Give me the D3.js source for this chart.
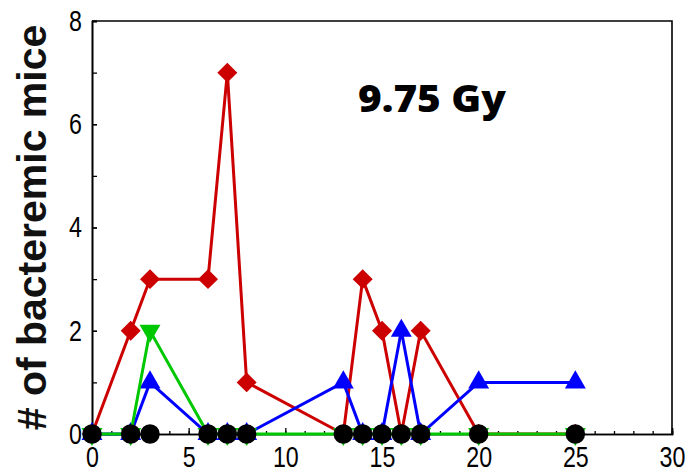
<!DOCTYPE html>
<html>
<head>
<meta charset="utf-8">
<script src="https://cdn.jsdelivr.net/npm/d3@7/dist/d3.min.js"></script>
<style>
  html, body { margin: 0; padding: 0; background: #fff; }
  svg { display: block; }
</style>
</head>
<body>
<script>
// Days after irradiation at which mice were sampled
const days = [0, 2, 3, 6, 7, 8, 13, 14, 15, 16, 17, 20, 25];

// Number of bacteremic mice per group on each day
const seriesRed   = [0, 2, 3, 3, 7, 1, 0, 3, 2, 0, 2, 0, 0];
const seriesBlue  = [0, 0, 1, 0, 0, 0, 1, 0, 0, 2, 0, 1, 1];
const seriesGreen = [0, 0, 2, 0, 0, 0, 0, 0, 0, 0, 0, 0, 0];
const seriesBlack = [0, 0, 0, 0, 0, 0, 0, 0, 0, 0, 0, 0, 0];

const xTicks = [0, 5, 10, 15, 20, 25, 30];
const yTicks = [0, 2, 4, 6, 8];

const titleText = "9.75 Gy";
const yLabel = "# of bacteremic mice";

const W = 689, H = 472;
const margin = { left: 92, right: 17, top: 21, bottom: 38 };

const svg = d3.select("body").append("svg")
  .attr("width", W).attr("height", H);

const x = d3.scaleLinear().domain([0, 30]).range([margin.left, W - margin.right]);
const y = d3.scaleLinear().domain([0, 8]).range([H - margin.bottom, margin.top]);

const tickFont = "'Liberation Sans', Arial, sans-serif";
const squeeze = 0.8; // condensed tick numerals

// Frame (top and right edges)
svg.append("path")
  .attr("d", `M${x(0)},${y(8)}H${x(30)}V${y(0)}`)
  .attr("fill", "none").attr("stroke", "#000").attr("stroke-width", 1.6);

// X axis: minor ticks every day, labelled every 5 days, ticks pointing inward
const xAxisMinor = d3.axisBottom(x).tickValues(d3.range(0, 31)).tickSize(-3).tickFormat("");
const xAxis = d3.axisBottom(x).tickValues(xTicks).tickSize(-6).tickPadding(10).tickFormat(d3.format("d"));

const gxm = svg.append("g").attr("transform", `translate(0,${y(0)})`).call(xAxisMinor);
const gx = svg.append("g").attr("transform", `translate(0,${y(0)})`).call(xAxis);
[gxm, gx].forEach(g => {
  g.select(".domain").attr("stroke", "#000").attr("stroke-width", 1.6);
  g.selectAll(".tick line").attr("stroke", "#000").attr("stroke-width", 1.3);
});
gx.selectAll(".tick text")
  .attr("font-family", tickFont).attr("font-size", 29).attr("fill", "#000")
  .attr("dy", "0.71em").attr("y", 12)
  .attr("transform", `scale(${squeeze},1)`);

// Y axis: ticks every unit, labelled every 2, ticks pointing inward
const yAxisMinor = d3.axisLeft(y).tickValues(d3.range(0, 9)).tickSize(-5).tickFormat("");
const yAxis = d3.axisLeft(y).tickValues(yTicks).tickSize(-5).tickPadding(10).tickFormat(d3.format("d"));
const gym = svg.append("g").attr("transform", `translate(${x(0)},0)`).call(yAxisMinor);
const gy = svg.append("g").attr("transform", `translate(${x(0)},0)`).call(yAxis);
[gym, gy].forEach(g => {
  g.select(".domain").attr("stroke", "#000").attr("stroke-width", 1.6);
  g.selectAll(".tick line").attr("stroke", "#000").attr("stroke-width", 1.3);
});
gy.selectAll(".tick text")
  .attr("font-family", tickFont).attr("font-size", 29).attr("fill", "#000")
  .attr("x", -10 / squeeze)
  .attr("transform", `scale(${squeeze},1)`);

// Axis title
svg.append("text")
  .attr("transform", `translate(46,${(y(0) + y(8)) / 2}) rotate(-90)`)
  .attr("text-anchor", "middle")
  .attr("font-family", "'Liberation Sans', Arial, sans-serif")
  .attr("font-weight", "bold").attr("font-size", 41).attr("fill", "#111")
  .text(yLabel);

// Panel title
svg.append("text")
  .attr("x", 358).attr("y", 112)
  .attr("font-family", "'Open Sans', sans-serif")
  .attr("font-weight", 800).attr("font-size", 37).attr("fill", "#000")
  .attr("textLength", 148).attr("lengthAdjust", "spacingAndGlyphs")
  .text(titleText);

const line = d3.line().x(d => x(d[0])).y(d => y(d[1]));
const plot = svg.append("g");

function drawSeries(values, color, symbolType, size, rotate, withLine) {
  const pts = days.map((d, i) => [d, values[i]]);
  const g = plot.append("g");
  if (withLine) {
    g.append("path").datum(pts)
      .attr("d", line).attr("fill", "none")
      .attr("stroke", color).attr("stroke-width", 3).attr("stroke-linejoin", "miter");
  }
  g.selectAll("path.m").data(pts).join("path")
    .attr("class", "m")
    .attr("d", d3.symbol().type(symbolType).size(size))
    .attr("transform", d => `translate(${x(d[0])},${y(d[1])}) rotate(${rotate})`)
    .attr("fill", color);
}

drawSeries(seriesRed, "#cc0000", d3.symbolSquare, 200, 45, true);
drawSeries(seriesBlue, "#0000ff", d3.symbolTriangle, 190, 0, true);
drawSeries(seriesGreen, "#00c800", d3.symbolTriangle, 190, 180, true);
drawSeries(seriesBlack, "#000", d3.symbolCircle, 300, 0, false);
</script>
</body>
</html>
